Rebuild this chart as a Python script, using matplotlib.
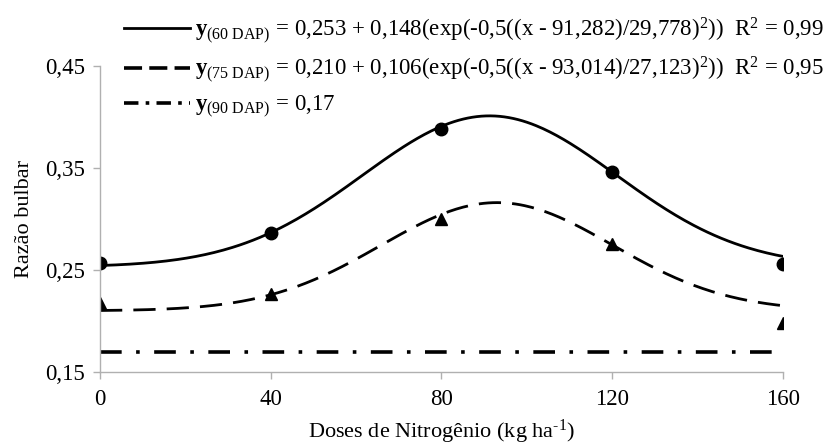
import numpy as np
import matplotlib
matplotlib.use('Agg')
import matplotlib.pyplot as plt
from matplotlib.lines import Line2D

plt.rcParams['font.family'] = 'Liberation Serif'
plt.rcParams['mathtext.fontset'] = 'custom'
plt.rcParams['mathtext.rm'] = 'Liberation Serif'
plt.rcParams['mathtext.it'] = 'Liberation Serif:italic'
plt.rcParams['mathtext.bf'] = 'Liberation Serif:bold'

# observed values
doses = [0, 40, 80, 120, 160]
dap60 = [0.257, 0.286, 0.388, 0.346, 0.256]
dap75 = [0.218, 0.226, 0.300, 0.275, 0.198]
dap90_mean = 0.17

# fitted gaussian parameters (a, b, x0, s)
fit60 = [0.253, 0.148, 91.282, 29.778]
fit75 = [0.210, 0.106, 93.014, 27.123]


def gauss(x, p):
    a, b, x0, s = p
    return a + b * np.exp(-0.5 * ((x - x0) / s) ** 2)


xs = np.linspace(0, 160, 300)

fig = plt.figure(figsize=(8.24, 4.45), dpi=100)
ax = fig.add_axes([0.1214, 0.164, 0.8286, 0.688])

ax.plot(xs, gauss(xs, fit60), color='black', lw=2.0)
ax.plot(xs, gauss(xs, fit75), color='black', lw=2.0, dashes=(8, 4))
ax.plot([0, 160], [dap90_mean, dap90_mean], color='black', lw=2.6,
        dashes=(6, 4, 1, 4))
ax.plot(doses, dap60, 'o', color='black', ms=9)
ax.plot(doses, dap75, '^', color='black', ms=9)

ax.set_xlim(0, 160)
ax.set_ylim(0.15, 0.45)
ax.set_xticks(doses)
ax.set_yticks([0.15, 0.25, 0.35, 0.45])
ax.set_yticklabels(['0,15', '0,25', '0,35', '0,45'])
for s in ['top', 'right']:
    ax.spines[s].set_visible(False)
for s in ['left', 'bottom']:
    ax.spines[s].set_color('#b0b0b0')
    ax.spines[s].set_linewidth(1.0)
ax.tick_params(colors='#b0b0b0', labelcolor='black', labelsize=16.5, length=5,
               width=1.0)
ax.tick_params(axis='x', pad=7)
ax.tick_params(axis='y', pad=6)
ax.set_xlabel(r'Doses de Nitrogênio (kg ha$^{\text{-1}}$)', fontsize=16, labelpad=6)
ax.set_ylabel('Razão bulbar', fontsize=16, labelpad=8)

handles = [
    Line2D([], [], color='black', lw=2.0),
    Line2D([], [], color='black', lw=2.6, dashes=(5, 2)),
    Line2D([], [], color='black', lw=2.6, dashes=(4, 2, 1, 2)),
]
labels = [
    r'$\mathbf{y}_{\rm (60\ DAP)}$ = 0,253 + 0,148(exp(-0,5((x - 91,282)/29,778)$^{2}$))  R$^{2}$ = 0,99',
    r'$\mathbf{y}_{\rm (75\ DAP)}$ = 0,210 + 0,106(exp(-0,5((x - 93,014)/27,123)$^{2}$))  R$^{2}$ = 0,95',
    r'$\mathbf{y}_{\rm (90\ DAP)}$ = 0,17',
]
fig.legend(handles, labels, loc='upper left', bbox_to_anchor=(0.150, 0.965),
           frameon=False, fontsize=16.5, handlelength=2.9, handletextpad=0.2,
           labelspacing=0.4, borderpad=0, borderaxespad=0)

fig.savefig('out.png', dpi=100)
